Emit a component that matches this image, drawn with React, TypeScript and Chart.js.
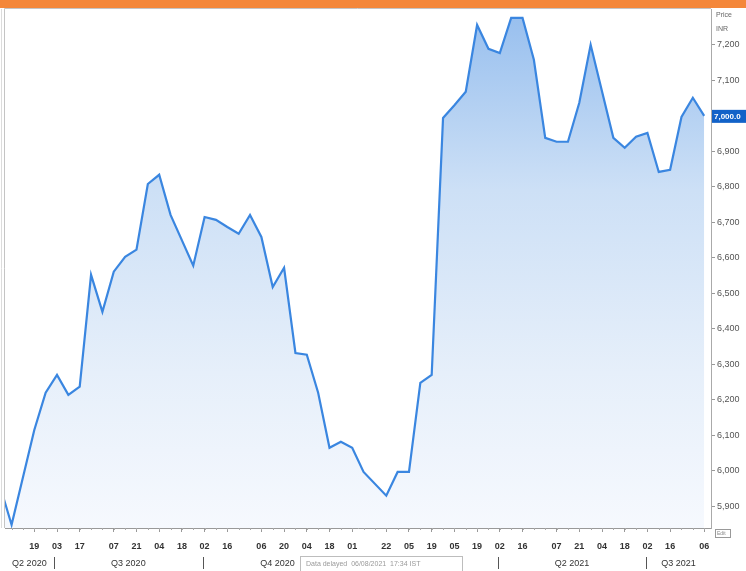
import React, { useEffect, useRef } from "react";
import { Chart, registerables } from "chart.js";

Chart.register(...registerables);

// Week offsets from Fri 03 Jul 2020 (week 0) and closing price (INR)
const weeks = [-5, -4, -2, -1, 0, 1, 2, 3, 4, 5, 6, 7, 8, 9, 10, 12, 13, 14, 15, 16, 17, 18, 19, 20, 21, 22, 23, 24, 25, 26, 27, 29, 30, 31, 32, 33, 34, 35, 36, 37, 38, 39, 40, 41, 42, 43, 44, 45, 46, 47, 49, 50, 51, 52, 53, 54, 55, 56, 57];
const prices = [5955, 5848, 6115, 6220, 6270, 6214, 6237, 6552, 6448, 6561, 6603, 6623, 6808, 6834, 6721, 6578, 6715, 6707, 6687, 6668, 6721, 6659, 6518, 6572, 6332, 6327, 6220, 6065, 6082, 6065, 5997, 5930, 5997, 5997, 6248, 6270, 6994, 7030, 7068, 7256, 7189, 7177, 7276, 7276, 7158, 6938, 6927, 6927, 7037, 7200, 6938, 6910, 6941, 6952, 6842, 6848, 6997, 7051, 7000];

// Bottom axis day ticks (week offsets) and their labels
const tickWeeks = [-2, 0, 2, 5, 7, 9, 11, 13, 15, 18, 20, 22, 24, 26, 29, 31, 33, 35, 37, 39, 41, 44, 46, 48, 50, 52, 54, 57];
const tickLabels = ["19", "03", "17", "07", "21", "04", "18", "02", "16", "06", "20", "04", "18", "01", "22", "05", "19", "05", "19", "02", "16", "07", "21", "04", "18", "02", "16", "06"];

// Quarter boundaries (week offsets) and quarter names
const quarterStarts = [-0.286, 12.857, 26, 38.857, 51.857];
const quarterNames = ["Q2 2020", "Q3 2020", "Q4 2020", "Q1 2021", "Q2 2021", "Q3 2021"];

const yTicks = [5900, 6000, 6100, 6200, 6300, 6400, 6500, 6600, 6700, 6800, 6900, 7000, 7100, 7200];

const X_MIN = -4.58;
const X_MAX = 57.6;
const Y_MIN = 5839;
const Y_MAX = 7301;

const FONT = "'Liberation Sans', Arial, sans-serif";

const overlay = {
  id: "overlay",
  beforeDraw(chart: any) {
    const c = chart.ctx;
    c.save();
    c.fillStyle = "#ffffff";
    c.fillRect(0, 0, chart.width, chart.height);
    c.restore();
  },
  afterDraw(chart: any) {
    const c = chart.ctx;
    const a = chart.chartArea;
    const xs = chart.scales.x;
    const ys = chart.scales.y;
    c.save();
    // orange band
    c.fillStyle = "#f4873a";
    c.fillRect(0, 0, chart.width, 8);
    // frame
    c.strokeStyle = "#c4c4c4";
    c.lineWidth = 1;
    c.beginPath();
    c.moveTo(a.left - 0.5, a.bottom);
    c.lineTo(a.left - 0.5, a.top - 0.5);
    c.lineTo(a.right, a.top - 0.5);
    c.stroke();
    c.strokeStyle = "#dcdcdc";
    c.beginPath();
    c.moveTo(a.left - 3.5, a.bottom);
    c.lineTo(a.left - 3.5, a.top);
    c.stroke();
    // weekly minor ticks
    c.strokeStyle = "#aaaaaa";
    for (let w = Math.ceil(X_MIN); w <= Math.floor(X_MAX); w++) {
      const x = Math.round(xs.getPixelForValue(w)) + 0.5;
      c.beginPath();
      c.moveTo(x, a.bottom);
      c.lineTo(x, a.bottom + 2);
      c.stroke();
    }
    // quarter separators and labels
    const bounds = [X_MIN, ...quarterStarts, X_MAX];
    c.fillStyle = "#333333";
    c.font = `9px ${FONT}`;
    c.textAlign = "center";
    c.textBaseline = "middle";
    for (let i = 0; i < quarterNames.length; i++) {
      const x0 = xs.getPixelForValue(bounds[i]);
      const x1 = xs.getPixelForValue(bounds[i + 1]);
      c.fillText(quarterNames[i], (x0 + x1) / 2, 564);
    }
    c.strokeStyle = "#555555";
    quarterStarts.forEach((q) => {
      const x = Math.round(xs.getPixelForValue(q)) + 0.5;
      c.beginPath();
      c.moveTo(x, 557);
      c.lineTo(x, 569);
      c.stroke();
    });
    // source box overlaying the bottom axis
    c.fillStyle = "#ffffff";
    c.fillRect(300, 556, 162, 16);
    c.strokeStyle = "#bdbdbd";
    c.strokeRect(300.5, 556.5, 162, 16);
    c.fillStyle = "#9a9a9a";
    c.font = `7px ${FONT}`;
    c.textAlign = "left";
    c.fillText("Data delayed  06/08/2021  17:34 IST", 306, 564);
    // price header
    c.fillStyle = "#666666";
    c.font = `7px ${FONT}`;
    c.textAlign = "left";
    c.fillText("Price", 716, 15);
    c.fillText("INR", 716, 29);
    // last price marker
    const last = prices[prices.length - 1];
    const yl = ys.getPixelForValue(last);
    c.fillStyle = "#1262c8";
    c.fillRect(a.right + 1, yl - 6, chart.width - a.right - 1, 13);
    c.fillStyle = "#ffffff";
    c.font = `bold 8px ${FONT}`;
    c.fillText(last.toLocaleString("en-US", { minimumFractionDigits: 1, maximumFractionDigits: 1 }), a.right + 3, yl + 0.5);
    // small icon box
    c.strokeStyle = "#999999";
    c.strokeRect(715.5, 529.5, 15, 8);
    c.fillStyle = "#888888";
    c.font = `5px ${FONT}`;
    c.fillText("Edit", 717, 534);
    c.restore();
  },
};

export default function App() {
  const ref = useRef<HTMLCanvasElement | null>(null);

  useEffect(() => {
    document.body.style.margin = "0";
    const canvas = ref.current;
    if (!canvas) return;
    const chart = new Chart(canvas, {
      type: "line",
      data: {
        datasets: [
          {
            data: weeks.map((w, i) => ({ x: w, y: prices[i] })),
            borderColor: "#3a86e0",
            borderWidth: 2.2,
            pointRadius: 0,
            tension: 0,
            fill: "start",
            backgroundColor: (ctx: any) => {
              const { chart: ch } = ctx;
              const area = ch.chartArea;
              if (!area) return "rgba(200,222,247,0.8)";
              const g = ch.ctx.createLinearGradient(0, area.top, 0, area.bottom);
              g.addColorStop(0, "rgb(150,190,238)");
              g.addColorStop(0.35, "rgb(205,224,246)");
              g.addColorStop(0.7, "rgb(230,239,250)");
              g.addColorStop(1, "rgb(246,249,254)");
              return g;
            },
          },
        ],
      },
      options: {
        responsive: false,
        animation: false,
        layout: { padding: { top: 9, left: 5, right: 0, bottom: 0 } },
        plugins: { legend: { display: false }, tooltip: { enabled: false } },
        scales: {
          x: {
            type: "linear",
            min: X_MIN,
            max: X_MAX,
            afterBuildTicks: (s: any) => {
              s.ticks = tickWeeks.map((v) => ({ value: v }));
            },
            afterFit: (s: any) => {
              s.height = 43;
            },
            ticks: {
              autoSkip: false,
              maxRotation: 0,
              padding: 9,
              color: "#333333",
              font: { family: FONT, size: 9, weight: "bold" },
              callback: (_v: any, i: number) => tickLabels[i],
            },
            grid: { drawOnChartArea: false, drawTicks: true, tickLength: 4, color: "#999999" },
            border: { display: true, color: "#999999" },
          },
          y: {
            position: "right",
            min: Y_MIN,
            max: Y_MAX,
            afterBuildTicks: (s: any) => {
              s.ticks = yTicks.map((v) => ({ value: v }));
            },
            afterFit: (s: any) => {
              s.width = 35;
            },
            ticks: {
              padding: 2,
              color: "#555555",
              font: { family: FONT, size: 9 },
              callback: (v: any) => Number(v).toLocaleString("en-US"),
            },
            grid: { drawOnChartArea: false, drawTicks: true, tickLength: 4, color: "#999999" },
            border: { display: true, color: "#aaaaaa" },
          },
        },
      } as any,
      plugins: [overlay],
    });
    return () => chart.destroy();
  }, []);

  return (
    <div style={{ width: 746, height: 571, overflow: "hidden" }}>
      <canvas ref={ref} width={746} height={571} style={{ display: "block" }} />
    </div>
  );
}
